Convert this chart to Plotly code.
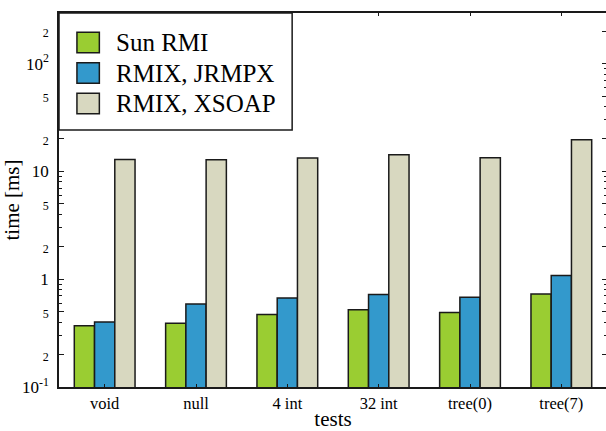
import plotly.graph_objects as go

# ---- data ----
tests = ["void", "null", "4 int", "32 int", "tree(0)", "tree(7)"]
series_names = ["Sun RMI", "RMIX, JRMPX", "RMIX, XSOAP"]
sun_rmi = [0.37, 0.39, 0.47, 0.52, 0.49, 0.73]
rmix_jrmpx = [0.40, 0.59, 0.67, 0.72, 0.68, 1.08]
rmix_xsoap = [12.9, 12.8, 13.3, 14.3, 13.4, 19.6]
y_tickvals = [0.1, 0.2, 0.5, 1, 2, 5, 10, 20, 50, 100, 200]
y_ticktext = ["10<sup>-1</sup>", "s2", "s5", "1", "s2", "s5", "10", "s2", "s5", "10<sup>2</sup>", "s2"]
y_minor = [0.3, 0.4, 0.6, 0.7, 0.8, 0.9, 3, 4, 6, 7, 8, 9, 30, 40, 60, 70, 80, 90]

# ---- styling ----
colors = ["#9acd32", "#3399cc", "#d8d8c0"]
edge = "#1a1a1a"
FONT = "Liberation Serif"
# the reference's plot frame runs just past the right edge of the 606 px window
W, H = 610, 431
L, R, T, B = 59, 609, 13, 387

def fmt(t):
    if t.startswith("s"):
        return "<span style='font-size:12px'>" + t[1:] + "</span>"
    return t

def px(x):
    return (x - L) / (R - L)

def py(y):
    return (B - y) / (B - T)

fig = go.Figure()
for name, vals, col in zip(series_names, [sun_rmi, rmix_jrmpx, rmix_xsoap], colors):
    fig.add_trace(go.Bar(
        x=tests, y=vals, name=name, showlegend=False,
        marker=dict(color=col, line=dict(color=edge, width=1.5)),
    ))

# hand-built legend box (large swatches as in the reference)
shapes = [dict(type="rect", xref="paper", yref="paper",
               x0=px(59), x1=px(293), y0=py(130), y1=py(13),
               line=dict(color=edge, width=1.5), fillcolor="white", layer="above")]
annotations = []
row_centers = [42.5, 73, 103.5]
for name, col, yc in zip(series_names, colors, row_centers):
    shapes.append(dict(type="rect", xref="paper", yref="paper",
                       x0=px(77), x1=px(99.5), y0=py(yc + 10.3), y1=py(yc - 10.3),
                       line=dict(color=edge, width=1.5), fillcolor=col, layer="above"))
    annotations.append(dict(xref="paper", yref="paper", x=px(114), y=py(yc),
                            xanchor="left", yanchor="middle", showarrow=False,
                            text=name, font=dict(family=FONT, size=25, color="black")))

fig.update_layout(
    width=W, height=H,
    margin=dict(l=L, r=W - R, t=T, b=H - B),
    paper_bgcolor="white", plot_bgcolor="white",
    barmode="group", bargap=0.335, bargroupgap=0,
    font=dict(family=FONT, color="black"),
    shapes=shapes, annotations=annotations,
    xaxis=dict(
        type="category", range=[-0.5, 5.5],
        showline=True, linecolor=edge, linewidth=1.5, mirror="ticks",
        ticks="inside", ticklen=3, tickcolor=edge, tickwidth=1,
        tickfont=dict(family=FONT, size=16.5, color="black"),
        showgrid=False,
        title=dict(text="tests", font=dict(family=FONT, size=21, color="black"), standoff=1),
    ),
    yaxis=dict(
        type="log", range=[-1, 2.469],
        showline=True, linecolor=edge, linewidth=1.5, mirror="ticks",
        tickmode="array", tickvals=y_tickvals, ticktext=[fmt(t) for t in y_ticktext],
        ticks="inside", ticklen=5, tickcolor=edge, tickwidth=1,
        ticklabelstandoff=5,
        tickfont=dict(family=FONT, size=17, color="black"),
        minor=dict(tickmode="array", tickvals=y_minor, ticks="inside", ticklen=3,
                   tickcolor=edge, tickwidth=1, showgrid=False),
        showgrid=False, zeroline=False,
        title=dict(text="time [ms]", font=dict(family=FONT, size=21, color="black"), standoff=5),
    ),
)

fig.write_html(
    "out.html",
    config={"displayModeBar": False},
    post_script="document.body.style.margin='0px';document.body.style.overflow='hidden';",
)
